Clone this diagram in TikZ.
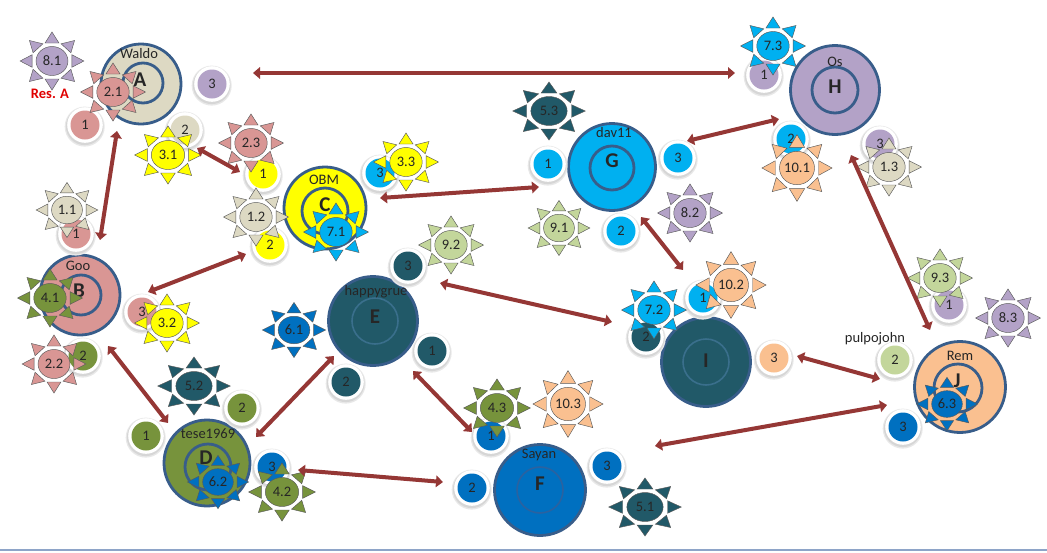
\documentclass[tikz,border=0pt]{standalone}
\usepackage{fontspec}
\setmainfont{Carlito}
\usetikzlibrary{arrows.meta}
\definecolor{bord}{HTML}{385D8A}
\definecolor{arr}{HTML}{953735}
\definecolor{cbeige}{HTML}{DDD9C3}
\definecolor{cpink}{HTML}{D99694}
\definecolor{cyel}{HTML}{FFFF00}
\definecolor{colive}{HTML}{77933C}
\definecolor{cteal}{HTML}{215968}
\definecolor{cblue}{HTML}{0070C0}
\definecolor{ccyan}{HTML}{00B0F0}
\definecolor{clav}{HTML}{B3A2C7}
\definecolor{corange}{HTML}{FAC090}
\definecolor{clgreen}{HTML}{C3D69B}
\definecolor{ringE}{HTML}{3A6F8C}
\definecolor{ringF}{HTML}{2A62A0}
\definecolor{cbase}{HTML}{8EA4C8}
\definecolor{resred}{HTML}{E00000}
\tikzset{
  bigc/.style={circle, draw=bord, line width=2.8pt, inner sep=0pt},
  ring/.style={draw=bord, line width=2.8pt},
  faintring/.style={line width=1.6pt},
  letter/.style={font=\fontsize{21}{21}\selectfont\bfseries, text=black!85, inner sep=0pt},
  namelab/.style={font=\fontsize{14.5}{15}\selectfont, text=black!85, inner sep=0pt},
  badgec/.style={circle, minimum size=29pt, inner sep=0pt, font=\fontsize{14.5}{15}\selectfont, text=black!85},
  sunline/.style={draw=black!65, line width=0.45pt},
  suntext/.style={font=\fontsize{14.5}{15}\selectfont, text=black!85, inner sep=0pt},
  link/.style={draw=arr, line width=4pt, {Triangle[length=7pt,width=11.5pt]}-{Triangle[length=7pt,width=11.5pt]}},
}
\newcommand\Badge[4]{%
  \fill[black!9, shift={(#2)}] (-0.3,1.6) circle (20);
  \fill[black!16, shift={(#2)}] (-0.3,1.3) circle (18.8);
  \fill[white, shift={(#2)}] (0,0) circle (17.8);
  \node[badgec, fill=#3] (#1) at (#2) {#4};
}
\newcommand\Sun[6]{%
  \begin{scope}[shift={(#4)}, xscale=#2, scale=#1]
    \foreach \a in {0,45,...,315}
      \filldraw[sunline, fill=#5, rotate=\a] (18,-6.3) -- (29,0) -- (18,6.3) -- cycle;
    \filldraw[sunline, fill=#5] (0,0) circle (14.5);
  \end{scope}
  \node[suntext] (#3) at (#4) {#6};
}
\begin{document}
\begin{tikzpicture}[x=1pt, y=-1pt]
\useasboundingbox (0,0) rectangle (1047,552);
\fill[white] (0,0) rectangle (1047,552);
\draw[draw=cbase, line width=1.5pt] (0,550) -- (1047,550);

% ---------- big nodes ----------
\node[bigc, fill=cbeige, minimum size=80pt] (A) at (141,84) {};
\draw[ring] (143,83) circle (20);
\node[letter] (Al) at (140,80) {A};
\node[namelab] (An) at (139,54) {Waldo};

\node[bigc, fill=cpink, minimum size=80pt] (B) at (80,295) {};
\draw[ring] (81,295) circle (20);
\node[letter] (Bl) at (79,291) {B};
\node[namelab] (Bn) at (78,266) {Goo};

\node[bigc, fill=cyel, minimum size=82pt] (C) at (325,208) {};
\draw[ring] (325,211) circle (23);
\node[letter] (Cl) at (325,205) {C};
\node[namelab] (Cn) at (324,180) {OBM};

\node[bigc, fill=colive, minimum size=86pt] (D) at (207,463) {};
\draw[ring] (208,467) circle (23);
\node[letter] (Dl) at (206,458) {D};
\node[namelab] (Dn) at (208,434) {tese1969};

\node[bigc, fill=cteal, minimum size=89pt] (E) at (373,321) {};
\draw[faintring, ringE] (375,321) circle (23);
\node[letter] (El) at (375,317) {E};
\node[namelab] (En) at (376,292) {happygrue};

\node[bigc, fill=cblue, minimum size=91pt] (F) at (540,490) {};
\draw[faintring, ringF] (540,490) circle (23);
\node[letter] (Fl) at (540,484) {F};
\node[namelab] (Fn) at (539,455) {Sayan};

\node[bigc, fill=ccyan, minimum size=87pt] (G) at (612,167) {};
\draw[ring] (612,168) circle (22);
\node[letter] (Gl) at (612,161) {G};
\node[namelab] (Gn) at (614,133) {dav11};

\node[bigc, fill=clav, minimum size=89pt] (H) at (835,90) {};
\draw[ring] (835,90) circle (23);
\node[letter] (Hl) at (835,87) {H};
\node[namelab] (Hn) at (835,62) {Os};

\node[bigc, fill=cteal, minimum size=89pt] (I) at (706,362) {};
\draw[faintring, ringE] (706,362) circle (23);
\node[letter] (Il) at (706,361) {I};

\node[bigc, fill=corange, minimum size=91pt] (J) at (960,387) {};
\draw[ring] (958,388) circle (24);
\node[letter] (Jl) at (957,381) {J};
\node[namelab] (Jn) at (960,356) {Rem};

\node[namelab] (pj) at (875,339) {pulpojohn};
\node[font=\fontsize{14.5}{15}\selectfont\bfseries, text=resred, inner sep=0pt] (resA) at (50,94) {Res. A};

% ---------- badges ----------
\Badge{b1}{85,125}{cpink}{1}
\Badge{b2}{185,130}{cbeige}{2}
\Badge{b3}{212,84}{clav}{3}
\Badge{b4}{263,174}{cyel}{1}
\Badge{b5}{76,234}{cpink}{1}
\Badge{b6}{270,245}{cyel}{2}
\Badge{b7}{380,173}{ccyan}{3}
\Badge{b8}{408,266}{cteal}{3}
\Badge{b9}{142,312}{cpink}{3}
\Badge{b10}{83,356}{colive}{2}
\Badge{b11}{242,408}{colive}{2}
\Badge{b12}{146,436}{colive}{1}
\Badge{b13}{272,467}{cblue}{3}
\Badge{b14}{346,382}{cteal}{2}
\Badge{b15}{432,351}{cteal}{1}
\Badge{b16}{491,436}{cblue}{1}
\Badge{b17}{472,488}{cblue}{2}
\Badge{b18}{607,466}{cblue}{3}
\Badge{b19}{548,164}{ccyan}{1}
\Badge{b20}{678,158}{ccyan}{3}
\Badge{b21}{621,231}{ccyan}{2}
\Badge{b22}{764,75}{clav}{1}
\Badge{b23}{791,139}{ccyan}{2}
\Badge{b24}{880,144}{clav}{3}
\Badge{b25}{646,337}{cteal}{2}
\Badge{b26}{703,298}{ccyan}{1}
\Badge{b27}{774,358}{corange}{3}
\Badge{b28}{949,305}{clav}{1}
\Badge{b29}{895,360}{clgreen}{2}
\Badge{b30}{903,427}{cblue}{3}

% ---------- suns ----------
\Sun{1}{1.1}{s81}{52,61}{clav}{8.1}
\Sun{1}{1.12}{s21}{113,92}{cpink}{2.1}
\Sun{1}{1.15}{s31}{168,155}{cyel}{3.1}
\Sun{1}{1.12}{s23}{251,143}{cpink}{2.3}
\Sun{0.95}{1.12}{s11}{67,210}{cbeige}{1.1}
\Sun{1}{1.12}{s12}{256,217}{cbeige}{1.2}
\Sun{1}{1.12}{s33}{406,162}{cyel}{3.3}
\Sun{1}{1.12}{s71}{336,232}{ccyan}{7.1}
\Sun{1}{1.12}{s92}{451,245}{clgreen}{9.2}
\Sun{1}{1.12}{s41}{50,298}{colive}{4.1}
\Sun{1}{1.12}{s32}{167,323}{cyel}{3.2}
\Sun{1}{1.1}{s22}{54,364}{cpink}{2.2}
\Sun{1}{1.25}{s52}{194,386}{cteal}{5.2}
\Sun{0.95}{1.15}{s61}{294,330}{cblue}{6.1}
\Sun{0.92}{1.15}{s62}{218,482}{cblue}{6.2}
\Sun{1}{1.15}{s42}{282,492}{colive}{4.2}
\Sun{1}{1.15}{s43}{497,408}{colive}{4.3}
\Sun{1.15}{1.05}{s103}{568,404}{corange}{10.3}
\Sun{1}{1.25}{s51}{645,507}{cteal}{5.1}
\Sun{1}{1.25}{s53}{549,111}{cteal}{5.3}
\Sun{0.95}{1.12}{s91}{559,228}{clgreen}{9.1}
\Sun{1}{1.12}{s82}{690,213}{clav}{8.2}
\Sun{1}{1.12}{s73}{773,46}{ccyan}{7.3}
\Sun{1.15}{1.05}{s101}{797,168}{corange}{10.1}
\Sun{1}{1.12}{s13}{889,167}{cbeige}{1.3}
\Sun{1}{1.12}{s72}{654,310}{ccyan}{7.2}
\Sun{1.15}{1.05}{s102}{731,285}{corange}{10.2}
\Sun{1}{1.12}{s93}{940,278}{clgreen}{9.3}
\Sun{1}{1.12}{s83}{1008,318}{clav}{8.3}
\Sun{0.92}{1.15}{s63}{947,404}{cblue}{6.3}

% ---------- connector ends ----------
\coordinate (aA1) at (253,73);  \coordinate (aH1) at (735,73);
\coordinate (aA2) at (117,131); \coordinate (aB1) at (100,240);
\coordinate (aS1) at (197,148); \coordinate (aS2) at (240,172);
\coordinate (aB2) at (148,292); \coordinate (aC1) at (246,254);
\coordinate (aC2) at (380,198); \coordinate (aG1) at (539,187);
\coordinate (aG2) at (687,141); \coordinate (aH2) at (779,119);
\coordinate (aG3) at (641,217); \coordinate (aI1) at (683,270);
\coordinate (aE1) at (440,283); \coordinate (aI2) at (612,322);
\coordinate (aH3) at (851,155); \coordinate (aJ1) at (930,330);
\coordinate (aI3) at (797,356); \coordinate (aJ2) at (880,379);
\coordinate (aF1) at (655,446); \coordinate (aJ3) at (887,405);
\coordinate (aB3) at (108,346); \coordinate (aD1) at (168,423);
\coordinate (aD2) at (256,437); \coordinate (aE2) at (334,356);
\coordinate (aE3) at (413,371); \coordinate (aF2) at (472,432);
\coordinate (aD3) at (298,470); \coordinate (aF3) at (443,482);

% ---------- connectors ----------
\draw[link] (aA1) -- (aH1);
\draw[link] (aA2) -- (aB1);
\draw[link] (aS1) -- (aS2);
\draw[link] (aB2) -- (aC1);
\draw[link] (aC2) -- (aG1);
\draw[link] (aG2) -- (aH2);
\draw[link] (aG3) -- (aI1);
\draw[link] (aE1) -- (aI2);
\draw[link] (aH3) -- (aJ1);
\draw[link] (aI3) -- (aJ2);
\draw[link] (aF1) -- (aJ3);
\draw[link] (aB3) -- (aD1);
\draw[link] (aD2) -- (aE2);
\draw[link] (aE3) -- (aF2);
\draw[link] (aD3) -- (aF3);
\end{tikzpicture}
\end{document}
